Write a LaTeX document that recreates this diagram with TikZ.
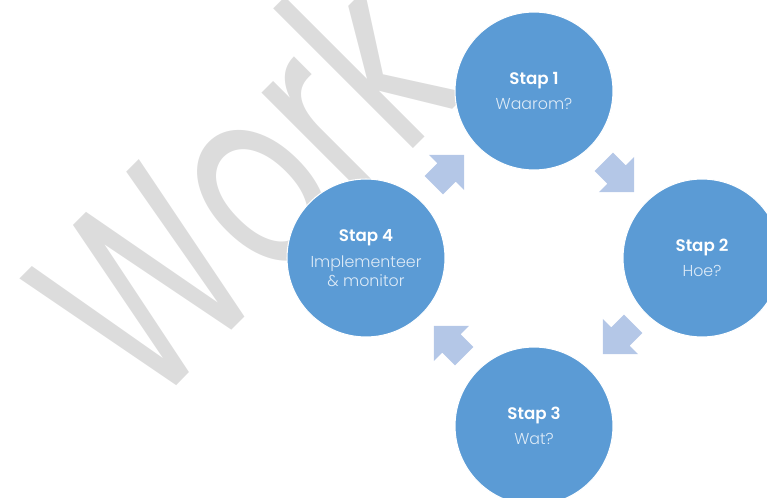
\documentclass[tikz,border=0pt]{standalone}
\usepackage{fontspec}
\setmainfont{Poppins}
\IfFontExistsTF{Poppins Light}{\newfontfamily\dunfont{Poppins Light}}{\newfontfamily\dunfont{Poppins}}
\IfFontExistsTF{Poppins SemiBold}{\newfontfamily\titelfont{Poppins SemiBold}}{\newfontfamily\titelfont{Poppins}[FakeBold=1.5]}
\definecolor{stapblauw}{RGB}{91,155,213}
\definecolor{pijlblauw}{RGB}{180,199,231}
\definecolor{subwit}{RGB}{222,235,247}
\definecolor{watermerk}{RGB}{220,220,220}
\begin{document}
\begin{tikzpicture}[x=0.02cm,y=-0.02cm,
    stap/.style={circle,fill=stapblauw,draw=white,line width=.6pt,minimum size=3.16cm,
      inner sep=0pt,align=center,text=subwit,font=\dunfont\fontsize{9}{10.8}\selectfont},
    pijl/.style={fill=pijlblauw}]
  \clip (0,0) rectangle (767,497);
  % watermerk achter de cirkels
  \node[rotate=45,xscale=.68,anchor=base west,inner sep=0pt,text=watermerk,
    font=\fontsize{152}{152}\selectfont] (wm) at (148,414) {Work};
  \foreach \n/\px/\py/\wat in {1/534/91/Waarom?,2/702/258/Hoe?,3/534/426/Wat?,
      4/366/258/{Implementeer\\\& monitor}} {
    \node[stap] (s\n) at (\px,\py) {{\color{white}\titelfont\fontsize{9.5}{11}\selectfont Stap \n}\\[3.7pt]\wat};
  }
  % pijlen tussen de stappen
  \foreach \px/\py/\hoek in {619/177/-45,618/339/-135,449/341/135,449/170/45} {
    \fill[pijl,shift={(\px,\py)},rotate=\hoek] (-21.5,-13) -- (-3.5,-13) -- (-3.5,-25)
      -- (21.5,0) -- (-3.5,25) -- (-3.5,13) -- (-21.5,13) -- cycle;
  }
\end{tikzpicture}
\end{document}
